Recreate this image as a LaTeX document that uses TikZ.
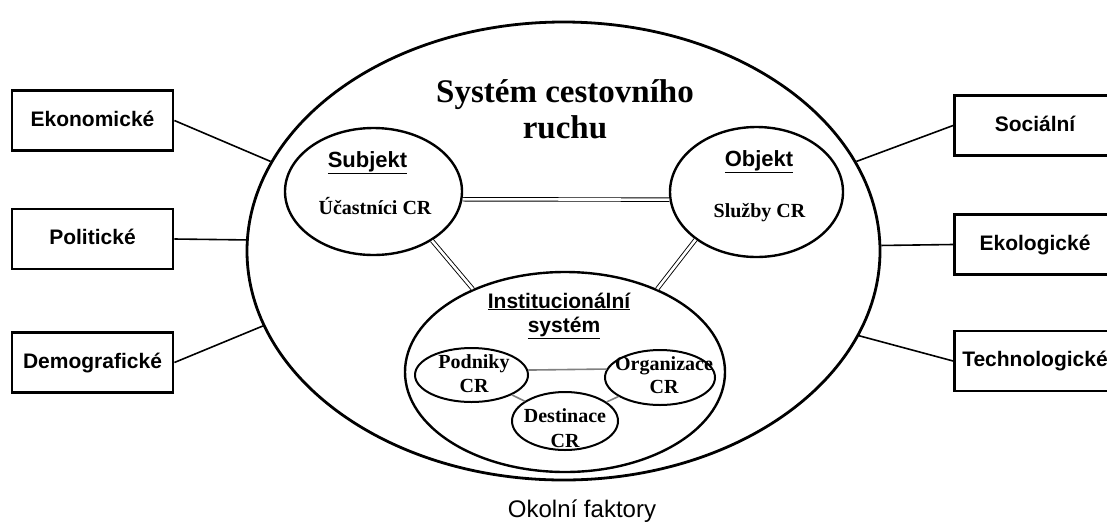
\documentclass[tikz,border=0pt]{standalone}
\usepackage{fontspec}
\setmainfont{Liberation Serif}
\setsansfont{Liberation Sans}
\usetikzlibrary{shapes.geometric}
\tikzset{
  factor/.style={draw, line width=2.8pt, rectangle, minimum width=161pt, minimum height=60pt,
    inner sep=0pt, text height=15pt, text depth=4pt, font=\sffamily\bfseries\fontsize{21}{25}\selectfont},
  bigell/.style={draw, ellipse, line width=2.8pt, inner sep=0pt},
  midell/.style={draw, ellipse, line width=2.4pt, inner sep=0pt},
  smallell/.style={draw, ellipse, line width=2pt, inner sep=0pt},
  link/.style={line width=1.6pt},
  dlink/.style={double, double distance=2.6pt, line width=0.9pt},
  glink/.style={line width=1.6pt, gray},
  sertext/.style={anchor=base, inner sep=0pt, font=\rmfamily\bfseries\fontsize{20}{24}\selectfont},
  santext/.style={anchor=base, inner sep=0pt, font=\sffamily\bfseries\fontsize{21}{25}\selectfont},
}
\begin{document}
\begin{tikzpicture}[x=1pt,y=-1pt]
\useasboundingbox (0,0) rectangle (1107,523);
% ellipses
\node[bigell, minimum width=633pt, minimum height=458pt] (sys) at (563.5,251) {};
\node[midell, minimum width=177pt, minimum height=127pt] (subj) at (373.5,191.5) {};
\node[midell, minimum width=173pt, minimum height=130pt] (obj) at (756.5,192) {};
\node[midell, minimum width=320pt, minimum height=200pt] (inst) at (565,372) {};
\node[smallell, minimum width=113pt, minimum height=54pt] (pod) at (471.5,375) {};
\node[smallell, minimum width=110pt, minimum height=55pt] (org) at (660,377.5) {};
\node[smallell, minimum width=106pt, minimum height=58pt] (des) at (565,421) {};
% factor boxes
\node[factor] (eko) at (92.5,120.5) {Ekonomické};
\node[factor] (pol) at (92.5,239) {Politické};
\node[factor] (dem) at (92.5,362.5) {Demografické};
\node[factor] (soc) at (1035,125.5) {Sociální};
\node[factor] (ekl) at (1035,244.5) {Ekologické};
\node[factor] (tec) at (1035,361) {Technologické};
% connectors to factors
\draw[link] (eko.east) -- (sys.163.8);
\draw[link] (pol.east) -- (sys.178);
\draw[link] (dem.east) -- (sys.194.6);
\draw[link] (soc.west) -- (sys.17.2);
\draw[link] (ekl.west) -- (sys.1.3);
\draw[link] (tec.west) -- (sys.-16.2);
% double links
\draw[dlink] (subj.-5.5) -- (obj.185.3);
\draw[dlink] (subj.-40.7) -- (inst.138.2);
\draw[dlink] (obj.218.2) -- (inst.42.2);
% gray links
\draw[glink] (pod.5.1) -- (org.171.9);
\draw[glink] (pod) -- (des);
\draw[glink] (org) -- (des);
% texts
\node[anchor=base, inner sep=0pt, font=\rmfamily\bfseries\fontsize{33}{38}\selectfont] (t1) at (565,102) {Systém cestovního};
\node[anchor=base, inner sep=0pt, font=\rmfamily\bfseries\fontsize{33}{38}\selectfont] (t2) at (565,138) {ruchu};
\node[santext, font=\sffamily\bfseries\fontsize{22}{26}\selectfont] (ls) at (367.5,167) {\underline{Subjekt}};
\node[sertext] (lu) at (375,214) {Účastníci CR};
\node[santext, font=\sffamily\bfseries\fontsize{22}{26}\selectfont] (lo) at (759,166) {\underline{Objekt}};
\node[sertext] (lsl) at (759.5,217) {Služby CR};
\node[santext] (li1) at (559,308) {\underline{Institucionální}};
\node[santext] (li2) at (564,332) {\underline{systém}};
\node[sertext] (lp1) at (474,368) {Podniky};
\node[sertext] (lp2) at (474,392) {CR};
\node[sertext] (lo1) at (664,370) {Organizace};
\node[sertext] (lo2) at (664,393) {CR};
\node[sertext] (ld1) at (565,422) {Destinace};
\node[sertext] (ld2) at (565,447) {CR};
\node[anchor=base, inner sep=0pt, font=\sffamily\fontsize{24}{28}\selectfont] (okf) at (582,517.5) {Okolní faktory};
\end{tikzpicture}
\end{document}
